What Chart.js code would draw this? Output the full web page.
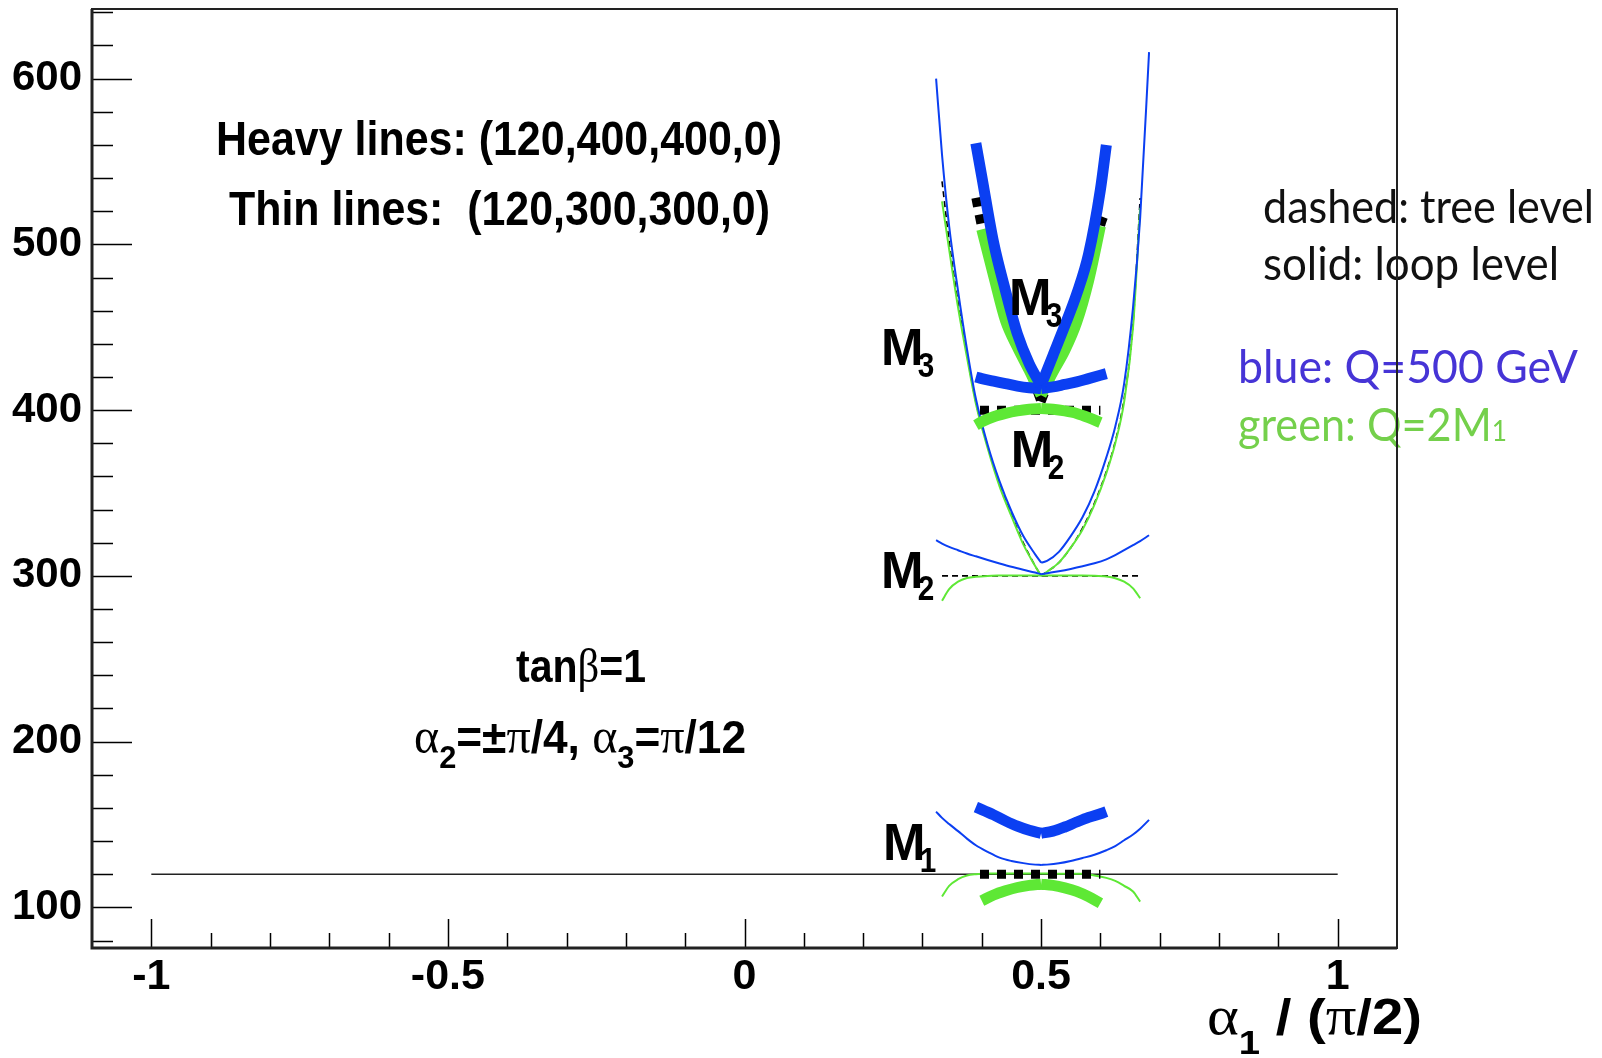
<!DOCTYPE html>
<html>
<head>
<meta charset="utf-8">
<script src="https://cdn.jsdelivr.net/npm/chart.js@4.4.1/dist/chart.umd.min.js"></script>
<style>
  html, body { margin: 0; padding: 0; background: #fff; }
  canvas { display: block; }
</style>
</head>
<body>
<canvas id="chart" width="1602" height="1058"></canvas>
<script>
// x grids (alpha1 / (pi/2)) for the two branches of each curve
const thinLeftX  = [0.323, 0.333, 0.345, 0.36, 0.375, 0.39, 0.41, 0.43, 0.45, 0.47, 0.49, 0.50];
const thinRightX = [0.50, 0.51, 0.53, 0.55, 0.57, 0.59, 0.61, 0.625, 0.64, 0.655, 0.667, 0.682];
const heavyLeftX  = [0.39, 0.40, 0.42, 0.44, 0.46, 0.48, 0.50];
const heavyRightX = [0.50, 0.52, 0.54, 0.56, 0.58, 0.60, 0.61];

// thin lines: (120,300,300,0)
const thinBlueM3L = [600, 554, 511, 472, 437, 407, 379, 357, 339, 324, 313, 308];
const thinBlueM3R = [308, 309, 314.5, 324, 335.5, 351, 371.5, 390, 416, 462, 516, 616];
const thinBlueM2L = [321.5, 319.5, 317.5, 315.5, 313.5, 311.8, 309.6, 307.5, 305.5, 303.7, 302, 301];
const thinBlueM2R = [301, 301.6, 302.8, 304.2, 305.8, 307.6, 310, 312.5, 315.5, 318.6, 321, 324.5];
const thinBlueM1L = [157.8, 154, 150.3, 146, 141.5, 137.5, 133.5, 130, 128, 126.7, 125.8, 125.6];
const thinBlueM1R = [125.6, 125.8, 126.6, 128, 129.8, 131.8, 134.5, 137, 140.5, 144, 147.5, 152.8];
const thinGreenM3L = [null, 526, 497, 462, 432, 404, 377, 354, 336, 319, 306, 300];
const thinGreenM3R = [300, 302.5, 308, 317, 328, 343, 362, 380, 405, 450, 522, null];
const thinGreenM2L = [null, 285, 292, 296.5, 298.7, 299.5, 300, 300.2, 300.3, 300.3, 300.3, 300.3];
const thinGreenM2R = [300.3, 300.3, 300.3, 300.2, 300.2, 300.1, 299.6, 298.6, 296.5, 292.5, 286.5, null];
const thinGreenM1L = [null, 106.6, 113, 117, 119.2, 120, 120.4, 120.4, 120.4, 120.4, 120.4, 120.4];
const thinGreenM1R = [120.4, 120.4, 120.3, 120.3, 120.3, 119.3, 117.8, 116, 113, 109.6, 103.5, null];
const thinTreeM3L = [null, 538, 502, 465, 434, 405, 378, 355, 337, 320, 306, 300];
const thinTreeM3R = [300, 302.5, 308, 317, 329, 344, 363, 381, 407, 452, 528, null];
const thinTreeX  = [0.333, 0.667];
const thinTreeM2 = [300, 300];

// heavy lines: (120,400,400,0)
const heavyBlueM3L = [561, 541, 501, 472, 446, 428, 415];
const heavyBlueM3R = [415, 433, 451, 470, 494, 533, 560];
const heavyBlueM2L = [420, 419, 417.5, 416, 414.5, 413.5, 413];
const heavyBlueM2R = [413, 414, 415.5, 417, 419, 421, 422];
const heavyBlueM1L = [160.5, 159, 155.8, 152.2, 149, 146.5, 144.7];
const heavyBlueM1R = [144.7, 146, 148.5, 151.5, 154.3, 156.5, 157.8];
const heavyGreenM3L = [null, 509, 481, 454, 438, 424, 409];
const heavyGreenM3R = [409, 423, 436, 453, 478, 511, null];
const heavyGreenM2L = [391, 393, 396, 398, 399.5, 400.5, 401];
const heavyGreenM2R = [401, 400.5, 399.5, 398, 395.5, 392.5, null];
const heavyGreenM1L = [null, 104, 107.5, 110, 112, 113.3, 114];
const heavyGreenM1R = [114, 113.3, 111.8, 109.7, 106.5, 102.5, null];
const heavyTreeM3L = [528, 510, 481, 454, 438, 424, 405];
const heavyTreeM3R = [405, 423, 436, 453, 478, 511, 521];
const heavyTreeX  = [0.397, 0.60];
const heavyTreeM2 = [400, 400];
const heavyTreeM1 = [120, 120];

// tree-level M1 over the full range
const lineM1X = [-1, 1];
const lineM1Y = [120, 120];

// axes
const xMajorTicks = [-1, -0.5, 0, 0.5, 1];
const xTickLabels = ['-1', '-0.5', '0', '0.5', '1'];
const yMajorTicks = [100, 200, 300, 400, 500, 600];
const yTickLabels = ['100', '200', '300', '400', '500', '600'];

const BLUE = '#0b3ff2';
const GREEN = '#5ee835';
const BLACK = '#000000';

function branch(xs, ys) {
    return xs.map((x, i) => ({ x: x, y: ys[i] })).filter(p => p.y !== null);
}

const datasets = [];
function add(data, color, width, dash, order) {
    datasets.push({
        data: data,
        borderColor: color,
        borderWidth: width,
        borderDash: dash || [],
        borderCapStyle: 'butt',
        borderJoinStyle: 'round',
        order: order,
        pointRadius: 0,
        showLine: true,
        fill: false,
        cubicInterpolationMode: 'monotone'
    });
}

// heavy, loop level
[[heavyBlueM3L, heavyBlueM3R], [heavyBlueM2L, heavyBlueM2R], [heavyBlueM1L, heavyBlueM1R]].forEach(c => {
    add(branch(heavyLeftX, c[0]), BLUE, 11, null, 1);
    add(branch(heavyRightX, c[1]), BLUE, 11, null, 1);
});
[[heavyGreenM3L, heavyGreenM3R], [heavyGreenM2L, heavyGreenM2R], [heavyGreenM1L, heavyGreenM1R]].forEach(c => {
    add(branch(heavyLeftX, c[0]), GREEN, 11, null, 2);
    add(branch(heavyRightX, c[1]), GREEN, 11, null, 2);
});
// heavy, tree level
add(branch(heavyLeftX, heavyTreeM3L), BLACK, 9, [9, 8], 3);
add(branch(heavyRightX, heavyTreeM3R), BLACK, 9, [9, 8], 3);
add(branch(heavyTreeX, heavyTreeM2), BLACK, 9, [9, 8], 3);
add(branch(heavyTreeX, heavyTreeM1), BLACK, 9, [9, 8], 3);
// thin, loop level
[[thinBlueM3L, thinBlueM3R], [thinBlueM2L, thinBlueM2R], [thinBlueM1L, thinBlueM1R]].forEach(c => {
    add(branch(thinLeftX, c[0]), BLUE, 2, null, 4);
    add(branch(thinRightX, c[1]), BLUE, 2, null, 4);
});
[[thinGreenM3L, thinGreenM3R], [thinGreenM2L, thinGreenM2R], [thinGreenM1L, thinGreenM1R]].forEach(c => {
    add(branch(thinLeftX, c[0]), GREEN, 2, null, 5);
    add(branch(thinRightX, c[1]), GREEN, 2, null, 5);
});
// thin, tree level
add(branch(thinLeftX, thinTreeM3L), BLACK, 1.6, [6, 4], 6);
add(branch(thinRightX, thinTreeM3R), BLACK, 1.6, [6, 4], 6);
add(branch(thinTreeX, thinTreeM2), BLACK, 1.6, [6, 4], 6);
add(branch(lineM1X, lineM1Y), '#222', 1.6, null, 7);

const SANS_B = s => 'bold ' + s + 'px "Liberation Sans", Arial, sans-serif';
const SERIF = s => s + 'px "Liberation Serif", serif';
const GILL = s => s + 'px Lato, sans-serif';

// parts: [text, font, dy]; squeezed to the given width
function drawRich(ctx, parts, left, base, width) {
    let total = 0;
    parts.forEach(p => { ctx.font = p[1]; total += ctx.measureText(p[0]).width; });
    const sx = width ? width / total : 1;
    ctx.save();
    ctx.translate(left, base);
    ctx.scale(sx, 1);
    let cx = 0;
    parts.forEach(p => {
        ctx.font = p[1];
        ctx.fillText(p[0], cx, p[2] || 0);
        cx += ctx.measureText(p[0]).width;
    });
    ctx.restore();
}

const mLabels = [['3', 0.230, 438], ['3', 0.446, 468.4], ['2', 0.449, 376.4], ['2', 0.230, 303.8], ['1', 0.2335, 139.5]];

const decorations = {
    id: 'decorations',
    afterDraw(chart) {
        const ctx = chart.ctx;
        const a = chart.chartArea;
        const x = chart.scales.x, y = chart.scales.y;
        ctx.save();
        ctx.textBaseline = 'alphabetic';
        ctx.textAlign = 'left';
        ctx.fillStyle = '#000';

        drawRich(ctx, [['Heavy lines: (120,400,400,0)', SANS_B(48)]], 216, 155, 566);
        drawRich(ctx, [['Thin lines:  (120,300,300,0)', SANS_B(48)]], 229, 225, 541);
        drawRich(ctx, [['tan', SANS_B(46)], ['β', SERIF(48)], ['=1', SANS_B(46)]], 516, 682, 130);
        drawRich(ctx, [['α', SERIF(50)], ['2', SANS_B(32), 15], ['=±', SANS_B(46)], ['π', SERIF(50)],
            ['/4, ', SANS_B(46)], ['α', SERIF(50)], ['3', SANS_B(32), 15], ['=', SANS_B(46)],
            ['π', SERIF(50)], ['/12', SANS_B(46)]], 414, 753, 332);

        mLabels.forEach(m => {
            const px = x.getPixelForValue(m[1]);
            const base = y.getPixelForValue(m[2]) + 18;
            ctx.font = SANS_B(51);
            ctx.fillText('M', px, base);
            ctx.save();
            ctx.translate(px + 36.8, base + 12);
            ctx.scale(0.85, 1);
            ctx.font = SANS_B(35);
            ctx.fillText(m[0], 0, 0);
            ctx.restore();
        });

        drawRich(ctx, [['α', SERIF(54)], ['1', SANS_B(34), 20], [' / (', SANS_B(50)], ['π', SERIF(54)],
            ['/2)', SANS_B(50)]], 1207, 1034, 215);

        ctx.fillStyle = '#111';
        drawRich(ctx, [['dashed: tree level', GILL(46)]], 1263, 223, 331);
        drawRich(ctx, [['solid: loop level', GILL(46)]], 1263, 280, 296);
        ctx.fillStyle = '#4634d6';
        drawRich(ctx, [['blue: Q=500 GeV', GILL(46)]], 1238, 383, 340);
        ctx.fillStyle = '#74d04b';
        drawRich(ctx, [['green: Q=2M', GILL(46)], ['1', GILL(28)]], 1238, 441, 269);

        // tick marks inside the frame
        ctx.strokeStyle = '#000';
        ctx.lineWidth = 1.5;
        ctx.beginPath();
        for (let v = 80; v <= 640; v += 20) {
            const py = Math.round(y.getPixelForValue(v)) + 0.5;
            const len = v % 100 === 0 ? 40 : 21;
            ctx.moveTo(a.left, py);
            ctx.lineTo(a.left + len, py);
        }
        for (let k = -10; k <= 10; k++) {
            const px = Math.round(x.getPixelForValue(k / 10)) + 0.5;
            const len = k % 5 === 0 ? 29 : 15;
            ctx.moveTo(px, a.bottom);
            ctx.lineTo(px, a.bottom - len);
        }
        ctx.stroke();

        // frame
        ctx.strokeStyle = '#222';
        ctx.lineWidth = 2;
        ctx.strokeRect(a.left, a.top, a.right - a.left, a.bottom - a.top);
        ctx.lineWidth = 3;
        ctx.beginPath();
        ctx.moveTo(a.left, a.top);
        ctx.lineTo(a.left, a.bottom);
        ctx.lineTo(a.right, a.bottom);
        ctx.stroke();
        ctx.restore();
    }
};

const ctx = document.getElementById('chart').getContext('2d');
const chart = new Chart(ctx, {
    type: 'scatter',
    data: { datasets: datasets },
    options: {
        responsive: false,
        animation: false,
        layout: { padding: { top: 9, right: 205, left: 0, bottom: 0 } },
        plugins: {
            legend: { display: false },
            tooltip: { enabled: false }
        },
        scales: {
            x: {
                type: 'linear',
                min: -1.1,
                max: 1.1,
                afterBuildTicks: s => { s.ticks = xMajorTicks.map(v => ({ value: v })); },
                afterFit: s => { s.height = 110; s.paddingLeft = 0; s.paddingRight = 0; },
                grid: { display: false },
                border: { display: false },
                ticks: {
                    autoSkip: false,
                    maxRotation: 0,
                    padding: -5,
                    color: '#000',
                    font: { family: '"Liberation Sans", Arial, sans-serif', size: 43, weight: 'bold' },
                    callback: v => xTickLabels[xMajorTicks.indexOf(v)]
                }
            },
            y: {
                type: 'linear',
                min: 75.5,
                max: 642,
                afterBuildTicks: s => { s.ticks = yMajorTicks.map(v => ({ value: v })); },
                afterFit: s => { s.width = 92; s.paddingTop = 0; s.paddingBottom = 0; },
                grid: { display: false },
                border: { display: false },
                ticks: {
                    autoSkip: false,
                    padding: 2,
                    color: '#000',
                    font: { family: '"Liberation Sans", Arial, sans-serif', size: 42, weight: 'bold' },
                    callback: v => yTickLabels[yMajorTicks.indexOf(v)]
                }
            }
        }
    },
    plugins: [decorations]
});
</script>
</body>
</html>
